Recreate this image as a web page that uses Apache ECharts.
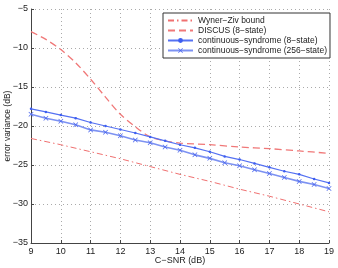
<!DOCTYPE html>
<html><head><meta charset="utf-8">
<script src="https://cdn.jsdelivr.net/npm/echarts@6/dist/echarts.min.js"></script>
<style>html,body{margin:0;padding:0;background:#fff}#c{width:338px;height:268px}</style>
</head><body><div id="c"></div>
<script>
const seriesNames = ['Wyner\u2212Ziv bound','DISCUS (8\u2212state)','continuous\u2212syndrome (8\u2212state)','continuous\u2212syndrome (256\u2212state)'];
const wzX = [9,10,11,12,13,14,15,16,17,18,19];
const wzY = [-21.6,-22.4,-23.3,-24.2,-25.2,-26.2,-27.1,-28.1,-29.0,-30.0,-31.0];
const discusX = [9,9.5,10,10.5,11,11.5,12,12.5,13,13.5,14,15,16,17,18,19];
const discusY = [-7.9,-8.9,-10.2,-11.9,-14.0,-16.3,-18.5,-20.1,-21.4,-21.9,-22.2,-22.4,-22.7,-22.9,-23.2,-23.5];
const csX = [9,9.5,10,10.5,11,11.5,12,12.5,13,13.5,14,14.5,15,15.5,16,16.5,17,17.5,18,18.5,19];
const cs8Y = [-17.8,-18.2,-18.6,-19.0,-19.55,-20.0,-20.45,-20.9,-21.4,-21.9,-22.4,-22.8,-23.3,-23.9,-24.3,-24.8,-25.3,-25.8,-26.2,-26.8,-27.3];
const cs256Y = [-18.5,-19.0,-19.4,-19.85,-20.5,-20.8,-21.25,-21.8,-22.15,-22.7,-23.1,-23.7,-24.15,-24.7,-25.1,-25.6,-26.1,-26.6,-27.1,-27.5,-28.0];
const xTicks = [9,10,11,12,13,14,15,16,17,18,19];
const yTicks = [-35,-30,-25,-20,-15,-10,-5];

const pair = (xs, ys) => xs.map((x, i) => [x, ys[i]]);
const font = 'Liberation Sans, Arial, Helvetica, sans-serif';
const minus = v => String(v).replace('-', '\u2212');
const xMark = 'path://M0,1L1,0L5,4L9,0L10,1L6,5L10,9L9,10L5,6L1,10L0,9L4,5Z';

const chart = echarts.init(document.getElementById('c'), null, {renderer: 'canvas'});
chart.setOption({
  animation: false,
  backgroundColor: '#fff',
  grid: {left: 31, right: 9, top: 9, bottom: 25, containLabel: false, outerBoundsMode: 'none'},
  legend: {
    orient: 'vertical', left: 163, top: 13,
    backgroundColor: '#fff', borderColor: '#333', borderWidth: 1,
    padding: [3, 3, 3, 4], itemGap: 1, itemWidth: 25, itemHeight: 6,
    textStyle: {fontFamily: font, fontSize: 8.5, color: '#222'},
    data: [
      {name: seriesNames[0], itemStyle: {opacity: 0}},
      {name: seriesNames[1], itemStyle: {opacity: 0}},
      {name: seriesNames[2]},
      {name: seriesNames[3]}
    ]
  },
  xAxis: {
    type: 'value', min: 9, max: 19, interval: 1,
    name: 'C\u2212SNR (dB)', nameLocation: 'middle', nameGap: 13, nameMoveOverlap: false,
    nameTextStyle: {fontFamily: font, fontSize: 9, color: '#222'},
    axisLine: {lineStyle: {color: '#444', width: 1}},
    axisTick: {inside: true, length: 3, lineStyle: {color: '#444'}},
    axisLabel: {fontFamily: font, fontSize: 9, color: '#222', margin: 4,
      customValues: xTicks, formatter: v => minus(v)},
    splitLine: {show: true, lineStyle: {type: [1, 3], color: '#aaa', width: 1}}
  },
  yAxis: {
    type: 'value', min: -35, max: -5, interval: 5,
    name: 'error variance (dB)', nameLocation: 'middle', nameGap: 19, nameRotate: 90, nameMoveOverlap: false,
    nameTextStyle: {fontFamily: font, fontSize: 8.5, color: '#222'},
    axisLine: {show: true, lineStyle: {color: '#444', width: 1}},
    axisTick: {show: true, inside: true, length: 3, lineStyle: {color: '#444'}},
    axisLabel: {fontFamily: font, fontSize: 9, color: '#222', margin: 3,
      customValues: yTicks, formatter: v => minus(v)},
    splitLine: {show: true, lineStyle: {type: [1, 3], color: '#aaa', width: 1}}
  },
  series: [
    {name: seriesNames[0], type: 'line', data: pair(wzX, wzY), showSymbol: false, symbol: 'none',
      itemStyle: {color: '#f07070'}, lineStyle: {color: '#f07070', width: 1, type: [6, 3, 1.5, 3]}},
    {name: seriesNames[1], type: 'line', data: pair(discusX, discusY), smooth: 0.3, showSymbol: false, symbol: 'none',
      itemStyle: {color: '#f07878'}, lineStyle: {color: '#f07878', width: 1.3, type: [7, 4]}},
    {name: seriesNames[2], type: 'line', data: pair(csX, cs8Y), symbol: 'circle', symbolSize: 2.5, showSymbol: true,
      itemStyle: {color: '#3d5ef0'}, lineStyle: {color: '#5571f2', width: 1.2}},
    {name: seriesNames[3], type: 'line', data: pair(csX, cs256Y), symbol: xMark, symbolSize: 5, showSymbol: true,
      itemStyle: {color: '#4a66ee'}, lineStyle: {color: '#7d92f2', width: 1.6}}
  ]
});
</script></body></html>
